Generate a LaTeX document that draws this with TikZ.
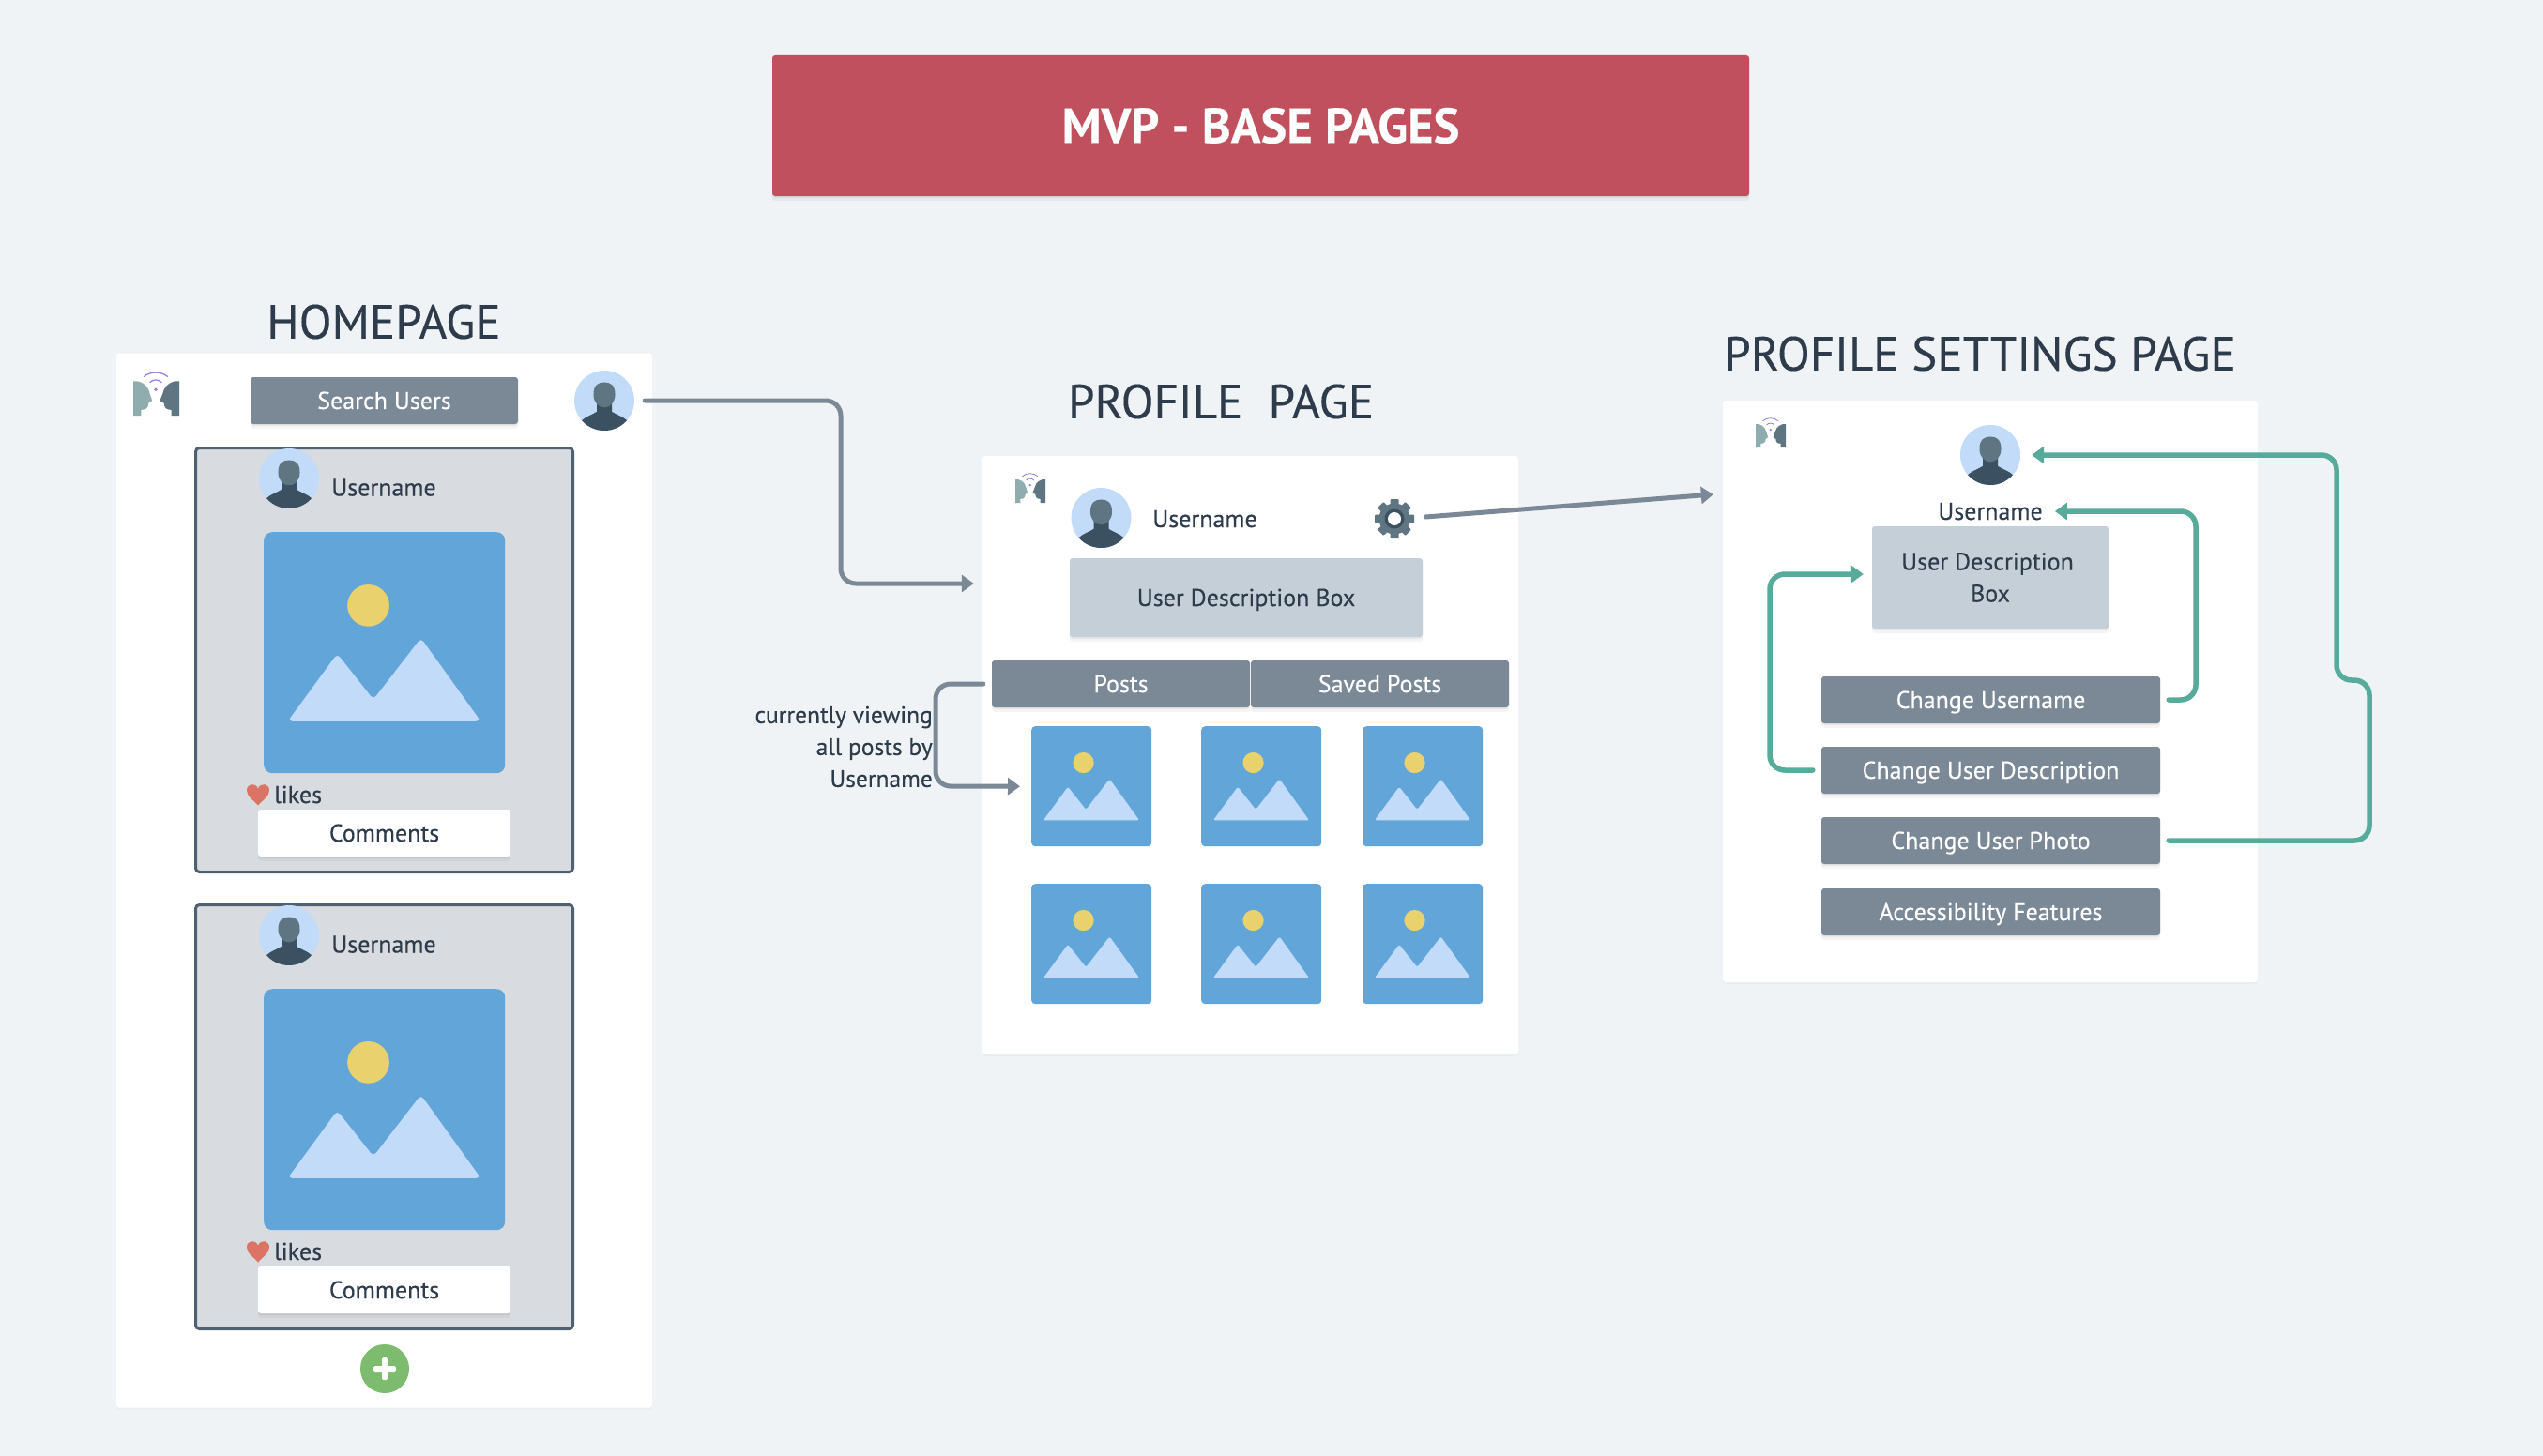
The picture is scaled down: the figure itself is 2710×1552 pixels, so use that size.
\documentclass[tikz,border=0pt]{standalone}
\usepackage{fontspec}
\setmainfont{PT Sans}[FakeBold=0.25]
\usetikzlibrary{arrows.meta,shadows}
\definecolor{bgc}{HTML}{F0F3F6}
\definecolor{redc}{HTML}{C0505D}
\definecolor{slatec}{HTML}{7B8896}
\definecolor{inkc}{HTML}{2D3B4B}
\definecolor{cardc}{HTML}{D8DBDF}
\definecolor{cardl}{HTML}{4F6070}
\definecolor{descc}{HTML}{C5CFD8}
\definecolor{imgc}{HTML}{62A5D9}
\definecolor{sunc}{HTML}{E9D16E}
\definecolor{avbg}{HTML}{C1DBF8}
\definecolor{headc}{HTML}{5F7682}
\definecolor{bodyc}{HTML}{3B5162}
\definecolor{facel}{HTML}{8FADAF}
\definecolor{wific}{HTML}{8B7FE0}
\definecolor{heartc}{HTML}{DB7465}
\definecolor{plusc}{HTML}{7DBB6F}
\definecolor{tealc}{HTML}{56AB9B}
\tikzset{
  softshadow/.style={drop shadow={shadow xshift=0pt,shadow yshift=-2pt,opacity=.05,fill=black},drop shadow={shadow xshift=0pt,shadow yshift=-5pt,opacity=.04,fill=black}},
  panelshadow/.style={drop shadow={shadow xshift=0pt,shadow yshift=-2pt,opacity=.025,fill=black}},
  panel/.style={fill=white,rounded corners=3pt,inner sep=0pt},
  onetext/.style={text height=18pt,text depth=0pt},
  btn/.style={fill=slatec,rounded corners=3pt,text=white,inner sep=0pt,font=\fontsize{26}{30}\selectfont,onetext,softshadow},
  card/.style={fill=cardc,draw=cardl,line width=3pt,rounded corners=4pt,inner sep=0pt},
  whitebox/.style={fill=white,rounded corners=3pt,text=inkc,inner sep=0pt,font=\fontsize{26}{30}\selectfont,onetext,softshadow},
  descbox/.style={fill=descc,rounded corners=3pt,text=inkc,inner sep=0pt,font=\fontsize{26}{34}\selectfont,softshadow},
  lbl/.style={text=inkc,inner sep=0pt,font=\fontsize{26}{30}\selectfont,onetext},
  lines/.style={text=inkc,inner sep=0pt,font=\fontsize{25.5}{34}\selectfont},
  heading/.style={text=inkc,inner sep=0pt,font=\fontsize{51}{56}\selectfont},
  conn/.style={draw=slatec,line width=5pt,rounded corners=16pt,line cap=round,-{Triangle[length=13pt,width=18pt]}},
  tealconn/.style={draw=tealc,line width=5.5pt,rounded corners=16pt,line cap=round,-{Triangle[length=13pt,width=18pt]}},
}
\newcommand\avatar[3]{%
  \node[circle,fill=avbg,minimum size=64pt,inner sep=0pt] (#1) at (#2,#3) {};
  \begin{scope}
    \clip (#2,#3) circle (32pt);
    \begin{scope}[shift={(#2,#3)},x=32pt,y=-32pt]
      \fill[bodyc] (-.25,.1) -- (-.25,.37) .. controls (-.4,.47) and (-.6,.52) .. (-.75,.66) -- (-.7,1.1) -- (.7,1.1) -- (.75,.66) .. controls (.6,.52) and (.4,.47) .. (.25,.37) -- (.25,.1) -- cycle;
      \fill[headc] (-.36,-.2) .. controls (-.36,-.52) and (-.2,-.61) .. (0,-.61) .. controls (.2,-.61) and (.36,-.52) .. (.36,-.2) .. controls (.36,.05) and (.2,.23) .. (0,.23) .. controls (-.2,.23) and (-.36,.05) .. (-.36,-.2) -- cycle;
    \end{scope}
  \end{scope}
}
% name, left, top, size, corner
\newcommand\photo[5]{%
  \node[fill=imgc,rounded corners=#5pt,minimum size=#4pt,inner sep=0pt,anchor=north west] (#1) at (#2,#3) {};
  \begin{scope}[shift={(#2,#3)},x=#4pt,y=-#4pt]
    \fill[sunc] (.434,.305) circle (.087*#4pt);
    \fill[avbg,rounded corners=.018*#4pt] (.10,.785) -- (.305,.505) -- (.455,.695) -- (.652,.44) -- (.90,.785) -- cycle;
  \end{scope}
}
% left, top, width, height
\newcommand\logo[4]{%
  \begin{scope}[shift={(#1,#2)},x=#3pt,y=-#4pt]
    \fill[facel] (0,.22) .. controls (.15,.2) and (.32,.3) .. (.36,.5) -- (.41,.66) -- (.33,.72) .. controls (.33,.82) and (.28,.87) .. (.17,.87) -- (.17,1) -- (0,1) -- cycle;
    \fill[headc] (1,.22) .. controls (.85,.2) and (.68,.3) .. (.64,.5) -- (.58,.66) -- (.67,.72) .. controls (.67,.82) and (.72,.87) .. (.83,.87) -- (.83,1) -- (1,1) -- cycle;
    \fill[wific] (.49,.41) circle (.04*#3pt);
    \draw[wific,line width=.025*#3pt] (.23,.12) .. controls (.36,-.01) and (.62,-.01) .. (.75,.12);
    \draw[wific,line width=.025*#3pt] (.36,.25) .. controls (.43,.17) and (.55,.17) .. (.62,.25);
  \end{scope}
}
\newcommand\gearicon[3]{%
  \node[circle,minimum size=42pt,inner sep=0pt] (#1) at (#2,#3) {};
  \fill[headc] (#2,#3) circle (16.5pt);
  \foreach \a in {0,45,...,315}
    \fill[headc,rotate around={\a:(#2,#3)},rounded corners=1pt] (#2-4.5,#3-21) rectangle (#2+4.5,#3-13);
  \fill[bodyc] (#2,#3) circle (10.5pt);
  \fill[white] (#2,#3) circle (7pt);
}
\newcommand\heart[2]{%
  \begin{scope}[shift={(#1,#2)},x=24pt,y=-23pt]
    \fill[heartc] (0,.5) .. controls (-.2,.25) and (-.5,.1) .. (-.5,-.2) .. controls (-.5,-.52) and (-.1,-.58) .. (0,-.27) .. controls (.1,-.58) and (.5,-.52) .. (.5,-.2) .. controls (.5,.1) and (.2,.25) .. (0,.5) -- cycle;
  \end{scope}
}
\begin{document}
\begin{tikzpicture}[x=1pt,y=-1pt]
\useasboundingbox (0,0) rectangle (2710,1552);
\fill[bgc] (0,0) rectangle (2710,1552);
% title
\node[fill=redc,rounded corners=3pt,minimum width=1041pt,minimum height=150pt,inner sep=0pt,text=white,font=\fontsize{52.5}{58}\bfseries\selectfont,softshadow] (title) at (1343.5,134) {MVP - BASE PAGES};
% headings
\node[heading] (hhome) at (409,343) {HOMEPAGE};
\node[heading] (hprof) at (1301,428) {PROFILE\ \ PAGE};
\node[heading] (hset) at (2110,377) {PROFILE SETTINGS PAGE};
% panels
\node[panel,minimum width=571pt,minimum height=1124pt,panelshadow] (home) at (409.5,938.5) {};
\node[panel,minimum width=571pt,minimum height=638pt,panelshadow] (profile) at (1332.5,805) {};
\node[panel,minimum width=570pt,minimum height=620pt,panelshadow] (settings) at (2121,737) {};
% homepage
\logo{142}{396}{49}{47}
\node[btn,minimum width=285pt,minimum height=50pt] (search) at (409.5,427) {Search Users};
\avatar{avhome}{644}{427}
\foreach \k/\dy in {a/0,b/487}{
  \begin{scope}[shift={(0,\dy)}]
    \node[card,minimum width=402pt,minimum height=452pt] (card\k) at (409.5,703.5) {};
    \avatar{av\k}{308}{510}
    \node[lbl] (user\k) at (409,519.5) {Username};
    \photo{img\k}{281}{567}{257}{9}
    \heart{275}{847}
    \node[lbl,anchor=base west] (likes\k) at (292,856) {likes};
    \node[whitebox,minimum width=269pt,minimum height=50pt] (comm\k) at (409.5,888) {Comments};
  \end{scope}
}
\node[circle,fill=plusc,minimum size=52pt,inner sep=0pt] (plus) at (410,1459) {};
\fill[white,rounded corners=1.5pt] (398,1456) rectangle (422,1462);
\fill[white,rounded corners=1.5pt] (407,1447) rectangle (413,1471);
% profile page
\logo{1082}{504}{32}{32}
\avatar{avprof}{1173.5}{552}
\node[lbl] (userprof) at (1284,553) {Username};
\gearicon{gear}{1486}{553}
\node[descbox,minimum width=376pt,minimum height=84pt,onetext] (descprof) at (1328,637) {User Description Box};
\node[btn,minimum width=275pt,minimum height=50pt] (posts) at (1194.5,729) {Posts};
\node[btn,minimum width=275pt,minimum height=50pt] (saved) at (1470.5,729) {Saved Posts};
\photo{pa}{1099}{774}{128}{4}
\photo{pb}{1280}{774}{128}{4}
\photo{pc}{1452}{774}{128}{4}
\photo{pd}{1099}{942}{128}{4}
\photo{pe}{1280}{942}{128}{4}
\photo{pf}{1452}{942}{128}{4}
\node[lines,align=right,anchor=east] (viewing) at (994,796) {currently viewing\\all posts by\hspace*{5pt}\\Username};
% settings page
\logo{1871}{445}{32}{32}
\avatar{avset}{2121}{485}
\node[lbl] (userset) at (2121,545) {Username};
\node[descbox,minimum width=252pt,minimum height=109pt,align=center] (descset) at (2121,615.5) {\hspace*{-6pt}User Description\\Box};
\node[btn,minimum width=361pt,minimum height=50pt] (cu) at (2121.5,746) {Change Username};
\node[btn,minimum width=361pt,minimum height=50pt] (cd) at (2121.5,821) {Change User Description};
\node[btn,minimum width=361pt,minimum height=50pt] (cp) at (2121.5,896) {Change User Photo};
\node[btn,minimum width=361pt,minimum height=50pt] (af) at (2121.5,972) {Accessibility Features};
% connectors
\draw[conn] ([xshift=11pt]avhome.east) -- (896,427) -- (896,622) -- ([xshift=-9pt,yshift=183pt]profile.west);
\draw[conn] ([xshift=12pt,yshift=2pt]gear.east) -- ([xshift=-10pt,yshift=210pt]settings.west);
\draw[conn] ([xshift=-9pt]posts.west) -- (997,729) -- (997,838) -- ([xshift=-12pt]pa.west);
\draw[tealconn] ([xshift=9pt]cu.east) -- (2340,746) -- (2340,545) -- ([xshift=13pt]userset.east);
\draw[tealconn] ([xshift=-9pt]cd.west) -- (1886,821) -- (1886,612) -- ([xshift=-9pt,yshift=3.5pt]descset.west);
\draw[tealconn] ([xshift=9pt]cp.east) -- (2525,896) -- (2525,725) -- (2490,725) -- (2490,485) -- ([xshift=12pt]avset.east);
\end{tikzpicture}
\end{document}
